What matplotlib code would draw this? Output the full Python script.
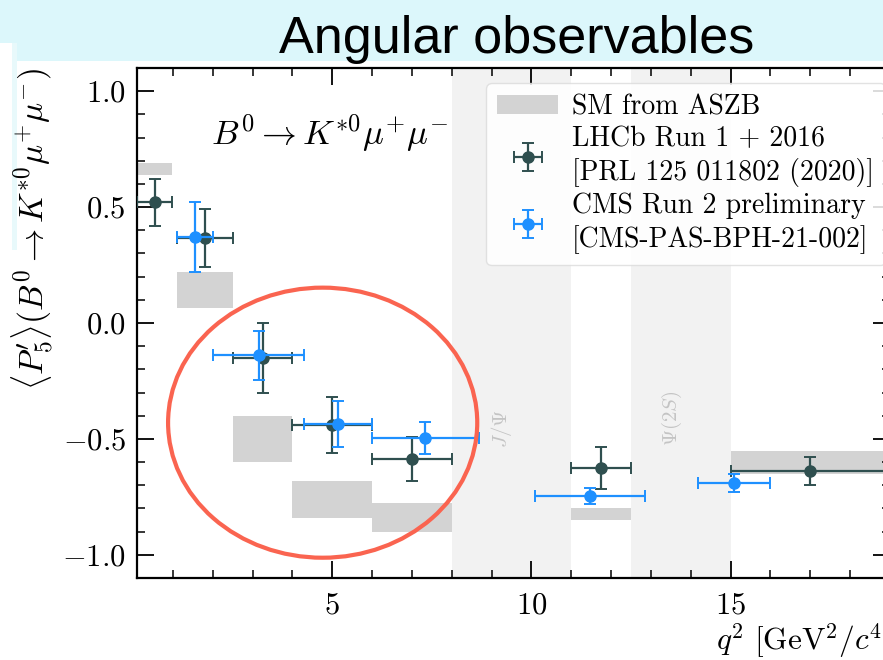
import matplotlib
matplotlib.use("Agg")
import matplotlib.pyplot as plt
from matplotlib.patches import Ellipse, Rectangle

plt.rcParams['font.family'] = 'serif'
plt.rcParams['font.serif'] = ['cmr10']
plt.rcParams['mathtext.fontset'] = 'cm'
plt.rcParams['axes.formatter.use_mathtext'] = True
plt.rcParams['axes.unicode_minus'] = True

# SM prediction (ASZB): bins and band edges
sm_lo = [0.1, 1.1, 2.5, 4.0, 6.0, 11.0, 15.0]
sm_hi = [0.98, 2.5, 4.0, 6.0, 8.0, 12.5, 19.0]
sm_min = [0.64, 0.065, -0.60, -0.84, -0.90, -0.85, -0.65]
sm_max = [0.69, 0.22, -0.40, -0.68, -0.775, -0.80, -0.55]

# LHCb Run 1 + 2016
lhcb_lo = [0.1, 1.1, 2.5, 4.0, 6.0, 11.0, 15.0]
lhcb_hi = [0.98, 2.5, 4.0, 6.0, 8.0, 12.5, 19.0]
lhcb_val = [0.52, 0.365, -0.15, -0.44, -0.585, -0.625, -0.64]
lhcb_err = [0.10, 0.125, 0.15, 0.12, 0.095, 0.09, 0.06]

# CMS Run 2 preliminary
cms_lo = [1.1, 2.0, 4.3, 6.0, 10.09, 14.18]
cms_hi = [2.0, 4.3, 6.0, 8.68, 12.86, 16.0]
cms_val = [0.37, -0.14, -0.437, -0.495, -0.745, -0.69]
cms_err = [0.15, 0.105, 0.10, 0.07, 0.035, 0.04]

# charmonium vetoes
veto_lo = [8.0, 12.5]
veto_hi = [11.0, 15.0]

W, H = 883, 660
fig = plt.figure(figsize=(W / 100, H / 100), dpi=100)
fig.patch.set_facecolor('white')

# slide background around the plot
fig.patches.append(Rectangle((0, 1 - 61 / H), 1, 61 / H, transform=fig.transFigure,
                             facecolor='#dcf7fb', edgecolor='none', zorder=-5))
fig.patches.append(Rectangle((12 / W, 1 - 250 / H), 5 / W, 207 / H, transform=fig.transFigure,
                             facecolor='#e8f9fb', edgecolor='none', zorder=-4))
fig.patches.append(Rectangle((0, 0), 12 / W, 1 - 43 / H, transform=fig.transFigure,
                             facecolor='white', edgecolor='none', zorder=-3))
fig.text(517 / W, 1 - 53 / H, 'Angular observables', ha='center', va='baseline',
         fontsize=37.5, family='Liberation Sans', color='black')

ax = fig.add_axes([137 / W, (H - 578) / H, (890 - 137) / W, (578 - 68) / H])

for lo, hi in zip(veto_lo, veto_hi):
    ax.axvspan(lo, hi, color='#f2f2f2', lw=0, zorder=0)

ax.bar(sm_lo, [mx - mn for mn, mx in zip(sm_min, sm_max)],
       width=[h - l for l, h in zip(sm_lo, sm_hi)], bottom=sm_min, align='edge',
       color='#d3d3d3', lw=0, zorder=1, label='SM from ASZB')

lhcb_x = [(l + h) / 2 for l, h in zip(lhcb_lo, lhcb_hi)]
lhcb_xerr = [(h - l) / 2 for l, h in zip(lhcb_lo, lhcb_hi)]
cms_x = [(l + h) / 2 for l, h in zip(cms_lo, cms_hi)]
cms_xerr = [(h - l) / 2 for l, h in zip(cms_lo, cms_hi)]

ax.errorbar(lhcb_x, lhcb_val, xerr=lhcb_xerr, yerr=lhcb_err, fmt='o', color='#2f4f4f',
            ms=8, elinewidth=1.6, capsize=4.5, capthick=1.4, zorder=3,
            label='LHCb Run 1 + 2016\n[PRL 125 011802 (2020)]')
ax.errorbar(cms_x, cms_val, xerr=cms_xerr, yerr=cms_err, fmt='o', color='#1e90ff',
            ms=8, elinewidth=1.6, capsize=4.5, capthick=1.4, zorder=4,
            label='CMS Run 2 preliminary\n[CMS-PAS-BPH-21-002]')

ax.text(9.25, -0.455, r'$J/\Psi$', rotation=90, color='#c4c4c4', fontsize=15,
        ha='center', va='center')
ax.text(13.52, -0.41, r'$\Psi(2S)$', rotation=90, color='#c4c4c4', fontsize=15,
        ha='center', va='center')
ax.text(1.95, 0.82, r'$B^0 \to K^{*0}\mu^{+}\mu^{-}$', fontsize=25, ha='left', va='center')

ax.set_xlim(0.1, 19.0)
ax.set_ylim(-1.1, 1.1)
ax.set_xticks([5, 10, 15])
ax.set_xticks(range(1, 20), minor=True)
ax.set_yticks([-1.0, -0.5, 0.0, 0.5, 1.0])
ax.set_yticks([i / 10 for i in range(-11, 12)], minor=True)
ax.tick_params(which='both', direction='in', top=True, right=True, labelsize=22)
ax.tick_params(which='major', length=12, width=1.3)
ax.tick_params(which='minor', length=6, width=1.1)
ax.tick_params(axis='x', pad=10)
ax.tick_params(axis='y', pad=8)
for s in ax.spines.values():
    s.set_linewidth(1.6)

ax.set_xlabel(r'$q^2\ [\mathrm{GeV}^2/c^4]$', fontsize=22.5, loc='right', labelpad=2)
ax.set_ylabel(r'$\langle P_5^\prime\rangle(B^0 \to K^{*0}\mu^{+}\mu^{-})$', fontsize=24,
              loc='top', labelpad=5)

leg = ax.legend(loc='upper left', bbox_to_anchor=(486 / W, 1 - 83 / H),
                bbox_transform=fig.transFigure, borderaxespad=0, fontsize=20,
                framealpha=0.85, edgecolor='#dddddd', fancybox=True,
                handlelength=2.2, labelspacing=0.18, borderpad=0.4, handletextpad=0.5)
for t in leg.get_texts():
    t.set_linespacing(1.3)

ax.add_patch(Ellipse((4.76, -0.43), 7.76, 1.165, fill=False, edgecolor='#fa6450',
                     lw=3.0, clip_on=False, zorder=10))

fig.savefig('out.png', dpi=100, facecolor=fig.get_facecolor())
